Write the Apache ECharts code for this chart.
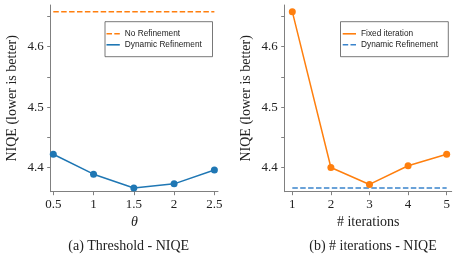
<!DOCTYPE html>
<html>
<head>
<meta charset="utf-8">
<script src="https://cdn.jsdelivr.net/npm/echarts@6/dist/echarts.min.js"></script>
<style>
html,body{margin:0;padding:0;background:#fff;}
#chart{width:456px;height:254px;}
</style>
</head>
<body>
<div id="chart"></div>
<script>
// ---- data ----
const thetaValues = [0.5, 1, 1.5, 2, 2.5];
const dynamicNiqe = [4.422, 4.389, 4.366, 4.373, 4.396];
const noRefinementNiqe = 4.658;
const iterationValues = [1, 2, 3, 4, 5];
const fixedNiqe = [4.658, 4.400, 4.372, 4.403, 4.422];
const dynamicBestNiqe = 4.366;
const yTickLabels = [4.4, 4.5, 4.6];
const yTickMarks = [4.4, 4.45, 4.5, 4.55, 4.6, 4.65];
const thetaTickLabels = [0.5, 1, 1.5, 2, 2.5];
const iterationTickLabels = [1, 2, 3, 4, 5];

const ORANGE = '#ff7f0e';
const BLUE = '#1f77b4';
const BLUE_DASH = '#3a84cc';
const SPINE = '#808080';
const SERIF = '"Liberation Serif", "DejaVu Serif", serif';
const SANS = '"Liberation Sans", Arial, sans-serif';

const DASH_ICON = 'path://M0,0h5.5v1.6h-5.5zM7.8,0h5.5v1.6h-5.5z';
const SOLID_ICON = 'path://M0,0h13.3v1.6h-13.3z';

function yAxis(gridIndex) {
  return {
    type: 'value', gridIndex, min: 4.360, max: 4.669,
    name: 'NIQE (lower is better)', nameLocation: 'middle', nameGap: 31,
    nameTextStyle: {fontFamily: SERIF, fontSize: 14, color: '#222'},
    axisLine: {show: true, lineStyle: {color: SPINE, width: 1}},
    axisTick: {show: true, customValues: yTickMarks, length: 3.5, lineStyle: {color: SPINE}},
    axisLabel: {customValues: yTickLabels, formatter: v => Number(v).toFixed(1),
      fontFamily: SERIF, fontSize: 13, color: '#222', margin: 7},
    splitLine: {show: false}
  };
}
function xAxis(gridIndex, min, max, ticks, name, italic) {
  return {
    type: 'value', gridIndex, min, max,
    name, nameLocation: 'middle', nameGap: 21,
    nameTextStyle: {fontFamily: SERIF, fontSize: 14, color: '#222', fontStyle: italic ? 'italic' : 'normal'},
    axisLine: {show: true, onZero: false, lineStyle: {color: SPINE, width: 1}},
    axisTick: {show: true, customValues: ticks, length: 3.5, lineStyle: {color: SPINE}},
    axisLabel: {customValues: ticks, formatter: v => String(v),
      fontFamily: SERIF, fontSize: 13, color: '#222', margin: 6},
    splitLine: {show: false}
  };
}

const option = {
  animation: false,
  backgroundColor: '#fff',
  grid: [
    {left: 50.7, right: 456 - 218, top: 5, bottom: 254 - 191.7},
    {left: 284.7, right: 456 - 451.7, top: 5, bottom: 254 - 191.7}
  ],
  xAxis: [
    xAxis(0, 0.468, 2.545, thetaTickLabels, 'θ', true),
    xAxis(1, 0.803, 5.13, iterationTickLabels, '# iterations', false)
  ],
  yAxis: [yAxis(0), yAxis(1)],
  legend: [
    {
      orient: 'vertical', left: 106.5, top: 29.8, padding: 0, itemGap: 3,
      itemWidth: 13.3, itemHeight: 1.6,
      textStyle: {fontFamily: SANS, fontSize: 8.3, color: '#222'},
      data: [
        {name: 'No Refinement', icon: DASH_ICON, itemStyle: {color: ORANGE}},
        {name: 'Dynamic Refinement', icon: SOLID_ICON, itemStyle: {color: BLUE}}
      ]
    },
    {
      orient: 'vertical', left: 342.7, top: 29.8, padding: 0, itemGap: 3,
      itemWidth: 13.3, itemHeight: 1.6,
      textStyle: {fontFamily: SANS, fontSize: 8.3, color: '#222'},
      data: [
        {name: 'Fixed iteration', icon: SOLID_ICON, itemStyle: {color: ORANGE}},
        {name: 'Dynamic Refinement ', icon: DASH_ICON, itemStyle: {color: BLUE_DASH}}
      ],
      formatter: n => n.trim()
    }
  ],
  graphic: [
    {type: 'rect', shape: {x: 105, y: 21.7, width: 107.5, height: 35}, z: 0,
      style: {fill: '#fff', stroke: '#555', lineWidth: 0.8}},
    {type: 'rect', shape: {x: 340.5, y: 21.7, width: 107.8, height: 35}, z: 0,
      style: {fill: '#fff', stroke: '#555', lineWidth: 0.8}},
    {type: 'text', x: 128.7, y: 246.7, style: {text: '(a) Threshold - NIQE', font: '14px ' + SERIF,
      fill: '#222', textAlign: 'center', textVerticalAlign: 'middle'}},
    {type: 'text', x: 373, y: 246.7, style: {text: '(b) # iterations - NIQE', font: '14px ' + SERIF,
      fill: '#222', textAlign: 'center', textVerticalAlign: 'middle'}}
  ],
  series: [
    {
      name: 'No Refinement', type: 'line', xAxisIndex: 0, yAxisIndex: 0,
      data: [[thetaValues[0], noRefinementNiqe], [thetaValues[thetaValues.length - 1], noRefinementNiqe]],
      showSymbol: false, symbol: 'none', itemStyle: {color: ORANGE},
      lineStyle: {color: ORANGE, width: 1.5, type: [5.5, 2.4]}
    },
    {
      name: 'Dynamic Refinement', type: 'line', xAxisIndex: 0, yAxisIndex: 0,
      data: thetaValues.map((x, i) => [x, dynamicNiqe[i]]),
      symbol: 'circle', symbolSize: 7, itemStyle: {color: BLUE},
      lineStyle: {color: BLUE, width: 1.5}
    },
    {
      name: 'Fixed iteration', type: 'line', xAxisIndex: 1, yAxisIndex: 1,
      data: iterationValues.map((x, i) => [x, fixedNiqe[i]]),
      symbol: 'circle', symbolSize: 7, itemStyle: {color: ORANGE},
      lineStyle: {color: ORANGE, width: 1.5}
    },
    {
      name: 'Dynamic Refinement ', type: 'line', xAxisIndex: 1, yAxisIndex: 1,
      data: [[iterationValues[0], dynamicBestNiqe], [iterationValues[iterationValues.length - 1], dynamicBestNiqe]],
      showSymbol: false, symbol: 'none', itemStyle: {color: BLUE_DASH},
      lineStyle: {color: BLUE_DASH, width: 1.5, type: [5.5, 2.4]}
    }
  ]
};
const chart = echarts.init(document.getElementById('chart'), null, {renderer: 'canvas'});
chart.setOption(option);
</script>
</body>
</html>
